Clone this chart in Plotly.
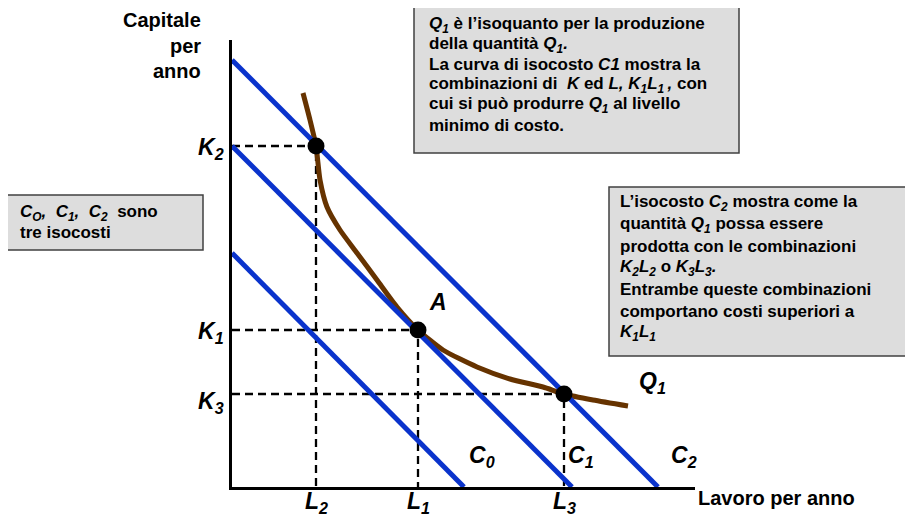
import plotly.graph_objects as go

# ---------------- data (units: arbitrary quantity units) ----------------
L_labels = ["L<sub>2</sub>", "L<sub>1</sub>", "L<sub>3</sub>"]
L_vals = [8.4, 18.6, 33.2]
K_labels = ["K<sub>2</sub>", "K<sub>1</sub>", "K<sub>3</sub>"]
K_vals = [34.1, 15.7, 9.3]

iso_names = ["C<sub>0</sub>", "C<sub>1</sub>", "C<sub>2</sub>"]
iso_K_int = [23.4, 34.1, 42.7]
iso_L_int = [23.2, 34.0, 42.6]

q_x = [7.1, 7.8, 8.4, 8.8, 9.5, 10.8, 12.5, 14.5, 16.5, 18.6, 21.1, 24.5, 27.8, 31.1, 33.2, 36.1, 39.6]
q_y = [39.4, 36.7, 34.1, 30.7, 28.0, 25.7, 23.4, 20.7, 18.0, 15.7, 13.7, 12.0, 10.8, 10.0, 9.3, 8.7, 8.1]

x_range = [0, 46.3]
y_range = [0, 44.7]

# ---------------- layout geometry ----------------
# the page body has an 8px margin, so the figure is drawn 8px smaller and
# all window-pixel targets are shifted by that offset
OFF = 8
W, H = 913 - OFF, 518 - OFF
L_M, T_M = 232 - OFF, 40 - OFF
R_M = W - (695 - OFF)
B_M = H - (487 - OFF)
PW, PH = W - L_M - R_M, H - T_M - B_M


def px(xp):
    return (xp - OFF - L_M) / PW


def py(yp):
    return (H - B_M - (yp - OFF)) / PH


FONT = "Liberation Sans, Arial, sans-serif"
BLUE = "#0a33cc"
BROWN = "#663300"

fig = go.Figure()

# dashed guide lines
for lv, kv in zip(L_vals, K_vals):
    fig.add_trace(go.Scatter(x=[0, lv, lv], y=[kv, kv, 0], mode="lines",
                             line=dict(color="black", width=2.3, dash="8px,5px"),
                             hoverinfo="skip"))

# isoquant
fig.add_trace(go.Scatter(x=q_x, y=q_y, mode="lines",
                         line=dict(color=BROWN, width=5, shape="spline", smoothing=0.6),
                         hoverinfo="skip"))

# isocost lines
for ki, li in zip(iso_K_int, iso_L_int):
    fig.add_trace(go.Scatter(x=[0, li], y=[ki, 0], mode="lines",
                             line=dict(color=BLUE, width=5), hoverinfo="skip"))

# points
fig.add_trace(go.Scatter(x=L_vals, y=K_vals, mode="markers",
                         marker=dict(color="black", size=17), hoverinfo="skip"))

ann = []
# K labels
for lab, kv, ys in zip(K_labels, K_vals, [-2, -2, -8]):
    ann.append(dict(x=0, y=kv, xref="x", yref="y", xanchor="right", yanchor="middle",
                    xshift=-6, yshift=ys, showarrow=False,
                    text="<b><i>" + lab + "</i></b>", font=dict(size=23, family=FONT, color="black")))
# L labels
for lab, lv in zip(L_labels, L_vals):
    ann.append(dict(x=lv, y=0, xref="x", yref="y", xanchor="center", yanchor="top",
                    yshift=1, showarrow=False,
                    text="<b><i>" + lab + "</i></b>", font=dict(size=23, family=FONT, color="black")))
# isocost labels
for lab, li, xs in zip(iso_names, iso_L_int, [18, 9, 26]):
    ann.append(dict(x=li, y=0, xref="x", yref="y", xanchor="center", yanchor="bottom",
                    xshift=xs, yshift=14, showarrow=False,
                    text="<b><i>" + lab + "</i></b>", font=dict(size=23, family=FONT, color="black")))
# A label
ann.append(dict(x=L_vals[1], y=K_vals[1], xref="x", yref="y", xanchor="center", yanchor="middle",
                xshift=20, yshift=28, showarrow=False,
                text="<b><i>A</i></b>", font=dict(size=23, family=FONT, color="black")))
# Q1 label
ann.append(dict(x=q_x[-1], y=q_y[-1], xref="x", yref="y", xanchor="center", yanchor="middle",
                xshift=24, yshift=24, showarrow=False,
                text="<b><i>Q<sub>1</sub></i></b>", font=dict(size=23, family=FONT, color="black")))

# axis titles
for t, yy in zip(["Capitale", "per", "anno"], [20, 46, 71]):
    ann.append(dict(x=px(203), y=py(yy), xref="paper", yref="paper", xanchor="right", yanchor="middle",
                    showarrow=False, text="<b>" + t + "</b>", font=dict(size=20, family=FONT, color="black")))
ann.append(dict(x=px(696), y=py(498), xref="paper", yref="paper", xanchor="left", yanchor="middle",
                showarrow=False, text="<b>Lavoro per anno</b>", font=dict(size=20, family=FONT, color="black")))

# text boxes
boxes = [
    (414, 739, 7, 153),
    (609, 910, 187, 356),
    (7, 203, 195, 250),
]
shapes = []
for x0, x1, y0, y1 in boxes:
    shapes.append(dict(type="rect", xref="paper", yref="paper", x0=px(x0), x1=px(x1), y0=py(y1), y1=py(y0),
                       fillcolor="#dddddd", line=dict(color="#404040", width=1.5), layer="below"))

box1_lines = [
    "<i>Q<sub>1</sub></i> è l’isoquanto per la produzione",
    "della quantità <i>Q<sub>1</sub>.</i>",
    "La curva di isocosto <i>C1</i> mostra la",
    "combinazioni di \u00a0<i>K</i> ed <i>L, K<sub>1</sub>L<sub>1 </sub>,</i> con",
    "cui si può produrre <i>Q<sub>1</sub></i> al livello",
    "minimo di costo.",
]
box2_lines = [
    "L’isocosto <i>C<sub>2</sub></i> mostra come la",
    "quantità <i>Q<sub>1</sub></i> possa essere",
    "prodotta con le combinazioni",
    "<i>K<sub>2</sub>L<sub>2</sub></i> o <i>K<sub>3</sub>L<sub>3</sub>.</i>",
    "Entrambe queste combinazioni",
    "comportano costi superiori a",
    "<i>K<sub>1</sub>L<sub>1</sub></i>",
]
box3_lines = [
    "<i>C<sub>O</sub>,\u00a0 C<sub>1</sub>,\u00a0 C<sub>2</sub></i>\u00a0 sono",
    "tre isocosti",
]
for lines, x0, y_first, step in [(box1_lines, 427, 25, 20), (box2_lines, 618, 203, 21.6), (box3_lines, 18, 213, 19.5)]:
    for i, t in enumerate(lines):
        ann.append(dict(x=px(x0), y=py(y_first + i * step), xref="paper", yref="paper",
                        xanchor="left", yanchor="middle", showarrow=False,
                        text="<b>" + t + "</b>", font=dict(size=17, family=FONT, color="black")))

fig.update_layout(
    width=W, height=H,
    margin=dict(l=L_M, r=R_M, t=T_M, b=B_M, pad=0),
    paper_bgcolor="white", plot_bgcolor="white",
    showlegend=False,
    xaxis=dict(range=x_range, showgrid=False, zeroline=False, showticklabels=False, ticks="",
               showline=True, linecolor="black", linewidth=2.5, fixedrange=True),
    yaxis=dict(range=y_range, showgrid=False, zeroline=False, showticklabels=False, ticks="",
               showline=True, linecolor="black", linewidth=2.5, fixedrange=True),
    annotations=ann,
    shapes=shapes,
)

fig.write_html("out.html")
